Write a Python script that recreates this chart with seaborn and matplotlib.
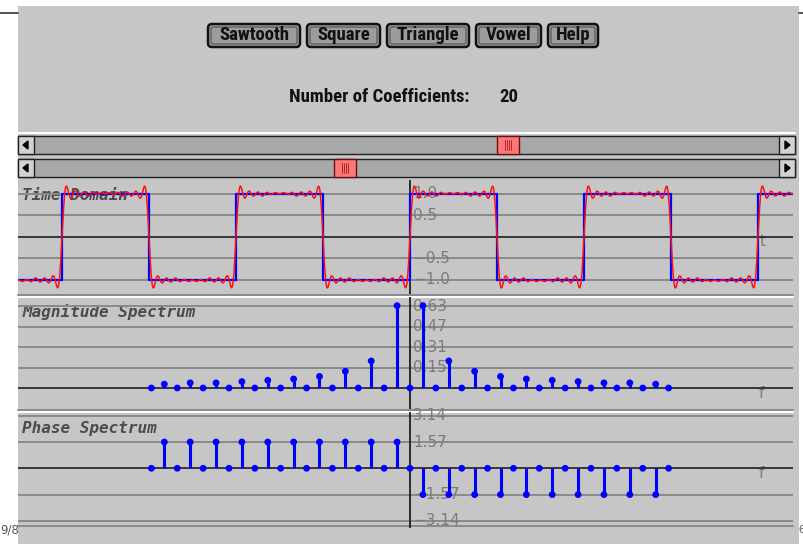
import numpy as np
import pandas as pd
import matplotlib
matplotlib.use("Agg")
import matplotlib.pyplot as plt
from matplotlib import font_manager as fm
from matplotlib.patches import Rectangle, FancyBboxPatch, Polygon
import seaborn as sns

# ---------------------------------------------------------------- data
button_labels = ["Sawtooth", "Square", "Triangle", "Vowel", "Help"]
n_coefficients = 20

# harmonic index k = -20 .. 20
harmonics = [-20, -19, -18, -17, -16, -15, -14, -13, -12, -11, -10,
             -9, -8, -7, -6, -5, -4, -3, -2, -1, 0,
             1, 2, 3, 4, 5, 6, 7, 8, 9, 10,
             11, 12, 13, 14, 15, 16, 17, 18, 19, 20]
magnitude = [0.00, 0.03, 0.00, 0.04, 0.00, 0.04, 0.00, 0.05, 0.00, 0.06, 0.00,
             0.07, 0.00, 0.09, 0.00, 0.13, 0.00, 0.21, 0.00, 0.64, 0.00,
             0.64, 0.00, 0.21, 0.00, 0.13, 0.00, 0.09, 0.00, 0.07, 0.00,
             0.06, 0.00, 0.05, 0.00, 0.04, 0.00, 0.04, 0.00, 0.03, 0.00]
phase = [0.00, 1.57, 0.00, 1.57, 0.00, 1.57, 0.00, 1.57, 0.00, 1.57, 0.00,
         1.57, 0.00, 1.57, 0.00, 1.57, 0.00, 1.57, 0.00, 1.57, 0.00,
         -1.57, 0.00, -1.57, 0.00, -1.57, 0.00, -1.57, 0.00, -1.57, 0.00,
         -1.57, 0.00, -1.57, 0.00, -1.57, 0.00, -1.57, 0.00, -1.57, 0.00]

# ideal square wave (time in periods): switching instants and levels
square_edges = [-2.5, -2.0, -1.5, -1.0, -0.5, 0.0, 0.5, 1.0, 1.5, 2.0, 2.5]
square_levels = [-1.0, 1.0, -1.0, 1.0, -1.0, 1.0, -1.0, 1.0, -1.0, 1.0]

time_ticks = [1.0, 0.5, -0.5, -1.0]
time_tick_labels = ["1.0", "0.5", "\u22120.5", "\u22121.0"]
mag_ticks = [0.637, 0.477, 0.318, 0.159]
mag_tick_labels = ["0.63", "0.47", "0.31", "0.15"]
phase_ticks = [3.14, 1.57, -1.57, -3.14]
phase_tick_labels = ["3.14", "1.57", "\u22121.57", "\u22123.14"]

# ---------------------------------------------------------------- style
sns.set_theme(style="white")
plt.rcParams["font.family"] = ["DejaVu Sans"]

W, H = 804, 544
BG = "#c6c6c6"
GRID = "#8a8a8a"
TICK = "#7a7a7a"
BLUE = "#0000ff"
RED = "#ff1010"

# narrow face for the control labels, if one is available
_installed = {f.name for f in fm.fontManager.ttflist}
_narrow = next((n for n in ["Liberation Sans Narrow", "Roboto Condensed",
                            "Open Sans Condensed", "Noto Sans Condensed"]
                if n in _installed), None)
_dejavu_cond = any(f.name == "DejaVu Sans" and "condensed" in str(f.stretch)
                   for f in fm.fontManager.ttflist)
if _narrow:
    BTN_FONT = dict(family=[_narrow, "DejaVu Sans"], fontsize=13.5)
elif _dejavu_cond:
    BTN_FONT = dict(family=["DejaVu Sans"], fontstretch="condensed", fontsize=12.8)
else:
    BTN_FONT = dict(family=["DejaVu Sans"], fontsize=11)

fig = plt.figure(figsize=(W / 100, H / 100), dpi=100)
fig.patch.set_facecolor("white")

# user-interface layer in pixel coordinates
ui = fig.add_axes([0, 0, 1, 1])
ui.set_xlim(0, W)
ui.set_ylim(H, 0)
ui.axis("off")
ui.add_patch(Rectangle((18, 6), 781, H - 6, facecolor=BG, edgecolor="none"))
ui.plot([0, 18], [13, 13], color="#333333", lw=1.2)
ui.plot([799, 804], [13, 13], color="#333333", lw=1.2)
ui.text(0.5, 530, "9/8", ha="left", va="center", fontsize=8.5, color="#555555",
        zorder=5)
ui.text(798.5, 530, "6", ha="left", va="center", fontsize=7, color="#555555",
        zorder=5)

# buttons
btn_x = [(208, 300), (307, 380), (387, 469), (476, 541), (548, 598)]
for (x0, x1), lab in zip(btn_x, button_labels):
    ui.add_patch(FancyBboxPatch((x0, 24), x1 - x0, 23,
                                boxstyle="round,pad=0,rounding_size=4",
                                facecolor="#a0a0a0", edgecolor="#111111", lw=1.8))
    ui.add_patch(FancyBboxPatch((x0 + 3, 27), x1 - x0 - 6, 17,
                                boxstyle="round,pad=0,rounding_size=2",
                                facecolor="#9c9c9c", edgecolor="#5a5a5a", lw=0.9))
    ui.text((x0 + x1) / 2, 35.5, lab, ha="center", va="center",
            fontweight="bold", color="#111111", **BTN_FONT)

ui.text(470, 97, "Number of Coefficients:", ha="right", va="center",
        fontweight="bold", color="#111111", **BTN_FONT)
ui.text(499, 97, str(n_coefficients), ha="left", va="center",
        fontweight="bold", color="#111111", **BTN_FONT)

# scroll bars
ui.plot([18, 795], [133, 133], color="white", lw=1.5)


def scrollbar(y0, y1, thumb_x):
    cy = (y0 + y1) / 2
    ui.add_patch(Rectangle((18, y0), 777, y1 - y0, facecolor="#a8a8a8",
                           edgecolor="#202020", lw=1.0))
    for bx in (18, 779):
        ui.add_patch(Rectangle((bx, y0), 16, y1 - y0, facecolor="#d2d2d2",
                               edgecolor="#202020", lw=1.0))
    ui.add_patch(Polygon([[23, cy], [28, cy - 4], [28, cy + 4]], color="black"))
    ui.add_patch(Polygon([[790, cy], [785, cy - 4], [785, cy + 4]], color="black"))
    ui.add_patch(Rectangle((thumb_x, y0), 22, y1 - y0, facecolor="#ff7878",
                           edgecolor="#6a1010", lw=1.0))
    for dx in (8, 10, 12, 14):
        ui.plot([thumb_x + dx] * 2, [cy - 5, cy + 5], color="#a81818", lw=0.6)


scrollbar(136, 154, 497)
scrollbar(159, 177, 334)

# panel separators
for y, c in [(294.5, GRID), (296.5, "white"), (409.5, GRID), (411.5, "white"),
             (525.5, GRID)]:
    ui.plot([18, 793], [y, y], color=c, lw=1.4)

title_font = dict(fontsize=11.5, fontweight="bold", style="oblique",
                  color="#4c4c4c", family="DejaVu Sans Mono", va="center", ha="left")
ui.text(22, 195, "Time Domain", **title_font)
ui.text(22, 312, "Magnitude Spectrum", **title_font)
ui.text(22, 428, "Phase Spectrum", **title_font)
ui.text(760, 242, "t", fontsize=11, color=TICK, va="center")
ui.text(759, 393, "f", fontsize=11, color=TICK, va="center")
ui.text(759, 473, "f", fontsize=11, color=TICK, va="center")


def panel(y0, y1, x_scale, y_zero, y_scale):
    ax = fig.add_axes([18 / W, 1 - y1 / H, (793 - 18) / W, (y1 - y0) / H])
    ax.set_facecolor("none")
    ax.set_xlim((18 - 410) / x_scale, (793 - 410) / x_scale)
    ax.set_ylim(-(y1 - y_zero) / y_scale, (y_zero - y0) / y_scale)
    ax.axis("off")
    ax.axhline(0, color="#202020", lw=1.2, zorder=1)
    ax.axvline(0, color="#111111", lw=1.2, zorder=1)
    return ax


def tick_labels(ax, values, labels, dx=3):
    for v, s in zip(values, labels):
        ax.axhline(v, color=GRID, lw=1.4, zorder=0)
        ax.annotate(s, (0, v), xytext=(dx, 0), textcoords="offset pixels",
                    fontsize=11, color=TICK, va="center", ha="left", zorder=2)


# ---------------------------------------------------------------- time domain
ax_t = panel(180, 294, 174, 237, 43)
tick_labels(ax_t, time_ticks, time_tick_labels)

t = np.linspace(*ax_t.get_xlim(), 1600)
k = np.array(harmonics)[:, None]
synth = (np.array(magnitude)[:, None] *
         np.cos(2 * np.pi * k * t[None, :] + np.array(phase)[:, None])).sum(axis=0)

sq = pd.DataFrame({"t": square_edges, "x": square_levels + [square_levels[-1]]})
sns.lineplot(data=sq, x="t", y="x", ax=ax_t, color=BLUE, lw=1.6,
             drawstyle="steps-post", estimator=None, sort=False, zorder=3)
sns.lineplot(x=t, y=synth, ax=ax_t, color=RED, lw=1.1, estimator=None,
             sort=False, zorder=4)

# ---------------------------------------------------------------- spectra
spec = pd.DataFrame({"k": harmonics, "mag": magnitude, "phase": phase})

ax_m = panel(297, 409, 12.93, 388, 128.7)
tick_labels(ax_m, mag_ticks, mag_tick_labels)
ax_m.vlines(spec["k"], 0, spec["mag"], color=BLUE, lw=2.2, zorder=3)
sns.scatterplot(data=spec, x="k", y="mag", ax=ax_m, color=BLUE, s=24,
                edgecolor="none", zorder=4, legend=False)

ax_p = panel(412, 528, 12.93, 468.3, 16.75)
tick_labels(ax_p, phase_ticks, phase_tick_labels)
ax_p.vlines(spec["k"], 0, spec["phase"], color=BLUE, lw=2.2, zorder=3)
sns.scatterplot(data=spec, x="k", y="phase", ax=ax_p, color=BLUE, s=24,
                edgecolor="none", zorder=4, legend=False)

for ax in (ax_t, ax_m, ax_p):
    ax.set_xlabel("")
    ax.set_ylabel("")

fig.savefig("out.png", dpi=100, facecolor=fig.get_facecolor())
